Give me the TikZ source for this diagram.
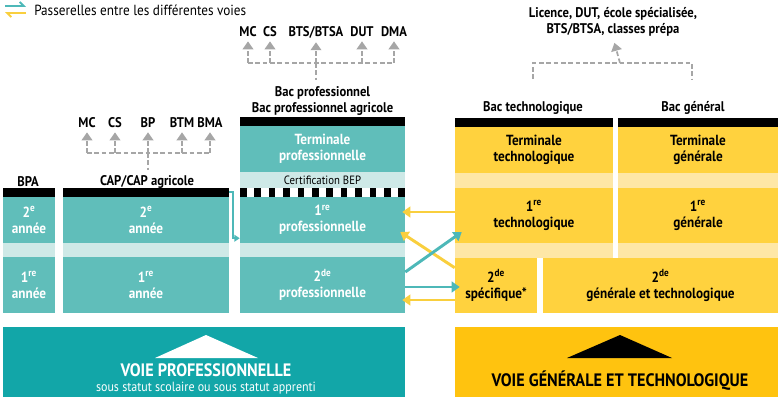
\documentclass[tikz,border=0pt]{standalone}
\usepackage{fontspec}
\setmainfont{PT Sans}[FakeStretch=0.9]
\usetikzlibrary{arrows.meta,calc}
\definecolor{colteal}{RGB}{96,190,186}
\definecolor{lightteal}{RGB}{206,233,231}
\definecolor{bannerteal}{RGB}{18,166,168}
\definecolor{colyellow}{RGB}{255,210,62}
\definecolor{lightyellow}{RGB}{254,231,166}
\definecolor{banneryellow}{RGB}{255,195,15}
\definecolor{passteal}{RGB}{77,184,184}
\definecolor{passyellow}{RGB}{249,207,62}
\definecolor{colgrey}{RGB}{166,166,166}
\begin{document}
\begin{tikzpicture}[x=0.75pt,y=0.75pt,yscale=-1,
  cell/.style 2 args={rectangle,inner sep=0pt,minimum width=#1*0.75pt,minimum height=#2*0.75pt,align=center},
  proftext/.style={fill=colteal,text=white,font=\bfseries\fontsize{11}{12}\selectfont},
  gentext/.style={fill=colyellow,text=black,font=\bfseries\fontsize{11}{12}\selectfont},
  headlabel/.style={inner sep=1pt,align=center,font=\bfseries\fontsize{10.5}{11.5}\selectfont},
  greydash/.style={draw=colgrey,line width=1.3pt,dash pattern=on 3.5pt off 2pt},
  greyarrow/.style={greydash,-{Triangle[length=6pt,width=8pt]},shorten >=2pt},
  tealpass/.style={draw=passteal,line width=2.2pt,-{Triangle[length=6pt,width=8pt]}},
  yellowpass/.style={draw=passyellow,line width=2.2pt,-{Triangle[length=6pt,width=8pt]}}]
\useasboundingbox (0,0) rectangle (778,400);

%Legend
\draw [draw=passteal,line width=1.4pt,-{Straight Barb[left,length=3pt]}] (5,6) -- (26,6) ;
\draw [draw=passyellow,line width=1.4pt,-{Straight Barb[left,length=3pt]}] (26,13) -- (5,13) ;
% Text Node
\node [anchor=west,inner sep=0pt,font=\fontsize{11}{12}\selectfont] (legend) at (34,10) {Passerelles entre les différentes voies};

%Shape: Rectangle (black bars)
\fill (3,188) rectangle (55,197) ;
\fill (63,188) rectangle (229,197) ;
\fill (240,117) rectangle (405,126) ;
\fill (455,118) rectangle (613,127) ;
\fill (618,118) rectangle (778,127) ;
\foreach \i in {0,...,11}
  \fill ({240+14.4*\i},188) rectangle ({246.5+14.4*\i},196.5) ;

%Shape: Rectangle (light bands)
\fill [lightteal] (3,243) rectangle (55,257) ;
\fill [lightteal] (63,243) rectangle (229,257) ;
\fill [lightteal] (240,243) rectangle (405,257) ;
\fill [lightyellow] (455,173) rectangle (613,188) ;
\fill [lightyellow] (618,173) rectangle (778,188) ;
\fill [lightyellow] (455,243) rectangle (613,258) ;
\fill [lightyellow] (618,243) rectangle (778,258) ;

%Voie professionnelle
\node [cell={52}{46},proftext] (bpa2) at (29,220) {2\textsuperscript{e}\\année};
\node [cell={52}{56},proftext] (bpa1) at (29,285) {1\textsuperscript{re}\\année};
\node [cell={166}{46},proftext] (cap2) at (146,220) {2\textsuperscript{e}\\année};
\node [cell={166}{56},proftext] (cap1) at (146,285) {1\textsuperscript{re}\\année};
\node [cell={165}{46},proftext] (proT) at (322.5,149) {Terminale\\professionnelle};
\node [cell={165}{16},fill=lightteal,font=\fontsize{9}{10}\selectfont] (bep) at (322.5,180) {Certification BEP};
\node [cell={165}{46},proftext] (pro1) at (322.5,220) {1\textsuperscript{re}\\professionnelle};
\node [cell={165}{56},proftext] (pro2) at (322.5,285) {2\textsuperscript{de}\\professionnelle};

%Voie generale et technologique
\node [cell={158}{46},gentext] (techT) at (534,150) {Terminale\\technologique};
\node [cell={160}{46},gentext] (genT) at (698,150) {Terminale\\générale};
\node [cell={158}{55},gentext] (tech1) at (534,215.5) {1\textsuperscript{re}\\technologique};
\node [cell={160}{55},gentext] (gen1) at (698,215.5) {1\textsuperscript{re}\\générale};
\node [cell={82}{55},gentext] (spe2) at (496,285.5) {2\textsuperscript{de}\\spécifique*};
\node [cell={235}{55},gentext] (gen2) at (660.5,285.5) {2\textsuperscript{de}\\générale et technologique};

% Text Node
\node [headlabel] (bpal) at (28,182) {BPA};
\node [headlabel] (capl) at (147,182) {CAP/CAP agricole};
\node [headlabel] (bpl) at (322.5,101) {Bac professionnel\\Bac professionnel agricole};
\node [headlabel] (btl) at (533,108) {Bac technologique};
\node [headlabel] (bgl) at (693,108) {Bac général};

\node [headlabel] (lmc) at (87,123) {MC};
\node [headlabel] (lcs) at (115,123) {CS};
\node [headlabel] (lbp) at (148,123) {BP};
\node [headlabel] (lbtm) at (182,123) {BTM};
\node [headlabel] (lbma) at (210,123) {BMA};

\node [headlabel] (mmc) at (248,32) {MC};
\node [headlabel] (mcs) at (270,32) {CS};
\node [headlabel] (mbts) at (316,32) {BTS/BTSA};
\node [headlabel] (mdut) at (362,32) {DUT};
\node [headlabel] (mdma) at (394,32) {DMA};

\node [headlabel] (rsup) at (613,22) {Licence, DUT, école spécialisée,\\BTS/BTSA, classes prépa};

%Dashed Lines
\coordinate (lhub) at (148,153);
\coordinate (mhub) at (316,63);
\coordinate (rhub) at (620,63);
\coordinate (rleft) at (533,79);
\coordinate (rright) at (692,79);

\draw [greydash] (lmc.south |- lhub) -- (lbma.south |- lhub) ;
\draw [greydash,shorten >=3pt] (lhub) -- (lhub |- capl.north) ;
\foreach \n in {lmc,lcs,lbp,lbtm,lbma}
  \draw [greyarrow] (\n.south |- lhub) -- (\n.south) ;

\draw [greydash] (mmc.south |- mhub) -- (mdma.south |- mhub) ;
\draw [greydash,shorten >=4pt] (mhub) -- (mhub |- bpl.north) ;
\foreach \n in {mmc,mcs,mbts,mdut,mdma}
  \draw [greyarrow] (\n.south |- mhub) -- (\n.south) ;

\draw [greydash] (rleft) |- (rhub) -| (rright) ;
\draw [greyarrow,shorten >=4pt] (rhub) -- (rsup.south) ;

%Passerelles
\draw [draw=passteal,line width=1.2pt,-{Triangle[length=4pt,width=5pt]}] ($(cap2.north east)+(0,-5)$) -- ++(4,0) |- ($(pro1.south west)+(0,-5)$) ;
\draw [yellowpass] ($(tech1.west)+(0,-3.5)$) -- ($(pro1.east)+(-3,-8)$) ;
\draw [yellowpass] ($(spe2.north west)+(0,10)$) -- ($(pro1.east)+(-5,12)$) ;
\draw [tealpass] ($(pro2.east)+(0,-13)$) -- ($(tech1.west)+(7,16.5)$) ;
\draw [tealpass] ($(pro2.east)+(0,2)$) -- ($(spe2.west)+(5,1.5)$) ;
\draw [yellowpass] ($(spe2.west)+(0,14.5)$) -- ($(pro2.east)+(-3,15)$) ;

%Shape: Rectangle (banners)
\node [cell={402}{70},fill=bannerteal] (vpro) at (204,362) {};
\node [cell={323}{70},fill=banneryellow] (vgen) at (616.5,362) {};
\fill [white] (206,335) -- (258,358) -- (155,358) -- cycle ;
\fill [black] (620,335) -- (672,358) -- (567,358) -- cycle ;
% Text Node
\node [text=white,inner sep=0pt,font=\bfseries\fontsize{13.5}{14}\selectfont] (vprol) at (206,370) {VOIE PROFESSIONNELLE};
\node [text=white,inner sep=0pt,font=\fontsize{10}{11}\selectfont] (vpros) at (206,388.5) {sous statut scolaire ou sous statut apprenti};
\node [inner sep=0pt,font=\bfseries\fontsize{13.5}{14}\selectfont] (vgenl) at (620,381) {VOIE GÉNÉRALE ET TECHNOLOGIQUE};

\end{tikzpicture}
\end{document}
